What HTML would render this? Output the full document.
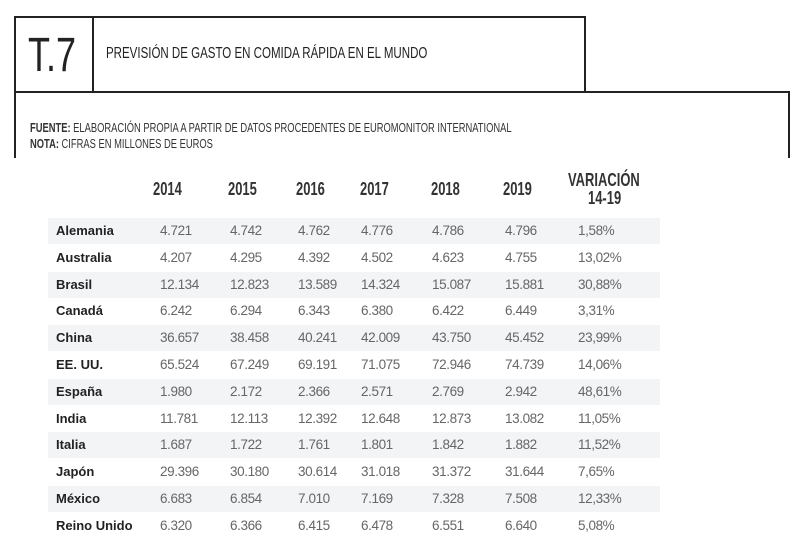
<!DOCTYPE html>
<html><head><meta charset="utf-8"><style>
body{margin:0;width:800px;height:554px;background:#fff;position:relative;overflow:hidden;font-family:"Liberation Sans",sans-serif;}
.a{position:absolute;white-space:nowrap;}
.ln{position:absolute;background:#222;}
.c{transform-origin:left center;transform:scaleX(0.72);}
.band{position:absolute;left:48px;width:612px;height:26px;background:#f3f4f6;}
.cn{font-weight:bold;font-size:13px;color:#222;}
.v{font-size:13.5px;color:#666;letter-spacing:-0.4px;}
.h{font-weight:bold;font-size:18px;color:#333;}
</style></head><body>
<div class="ln" style="left:14px;top:16px;width:572px;height:2px"></div>
<div class="ln" style="left:14px;top:16px;width:2px;height:142px"></div>
<div class="ln" style="left:92px;top:16px;width:2px;height:76px"></div>
<div class="ln" style="left:584px;top:16px;width:2px;height:76px"></div>
<div class="ln" style="left:14px;top:91px;width:776px;height:2px"></div>
<div class="ln" style="left:788px;top:91px;width:2px;height:67px"></div>
<div class="a c" style="left:28px;top:28px;font-size:48px;color:#222;transform:scaleX(0.75)">T.7</div>
<div class="a c" style="left:106px;top:45px;font-size:16px;color:#222">PREVISIÓN DE GASTO EN COMIDA RÁPIDA EN EL MUNDO</div>
<div class="a c" style="left:30px;top:120px;font-size:13px;color:#333"><b>FUENTE:</b> ELABORACIÓN PROPIA A PARTIR DE DATOS PROCEDENTES DE EUROMONITOR INTERNATIONAL</div>
<div class="a c" style="left:30px;top:136px;font-size:13px;color:#333"><b>NOTA:</b> CIFRAS EN MILLONES DE EUROS</div>
<div id="t"></div>
<script>
const years=["2014","2015","2016","2017","2018","2019"];
const countries=["Alemania","Australia","Brasil","Canadá","China","EE. UU.","España","India","Italia","Japón","México","Reino Unido"];
const v2014=["4.721","4.207","12.134","6.242","36.657","65.524","1.980","11.781","1.687","29.396","6.683","6.320"];
const v2015=["4.742","4.295","12.823","6.294","38.458","67.249","2.172","12.113","1.722","30.180","6.854","6.366"];
const v2016=["4.762","4.392","13.589","6.343","40.241","69.191","2.366","12.392","1.761","30.614","7.010","6.415"];
const v2017=["4.776","4.502","14.324","6.380","42.009","71.075","2.571","12.648","1.801","31.018","7.169","6.478"];
const v2018=["4.786","4.623","15.087","6.422","43.750","72.946","2.769","12.873","1.842","31.372","7.328","6.551"];
const v2019=["4.796","4.755","15.881","6.449","45.452","74.739","2.942","13.082","1.882","31.644","7.508","6.640"];
const variation=["1,58%","13,02%","30,88%","3,31%","23,99%","14,06%","48,61%","11,05%","11,52%","7,65%","12,33%","5,08%"];
const cols=[v2014,v2015,v2016,v2017,v2018,v2019,variation];
const colX=[160,230,298,361,432,505,578];
const hX=[153,228,296,360,431,503];
const t=document.getElementById('t');
function mk(cls,txt,x,y){const d=document.createElement('div');d.className='a '+cls;d.textContent=txt;d.style.left=x+'px';d.style.top=y+'px';t.appendChild(d);return d;}
years.forEach((y,i)=>{const d=mk('h c',y,hX[i],179);

});
let vh=mk('h c','VARIACIÓN',568,170);


let vh2=mk('h c','14-19',588,188);


countries.forEach((c,r)=>{
 const y=218+r*26.8;
 if(r%2===0){const b=document.createElement('div');b.className='band';b.style.top=y+'px';
 
 
 t.appendChild(b);}
 const n=mk('cn',c,56,y+5);
 
 
 cols.forEach((col,i)=>{const d=mk('v',col[r],colX[i],y+5);
 
 });
});
</script>
</body></html>
